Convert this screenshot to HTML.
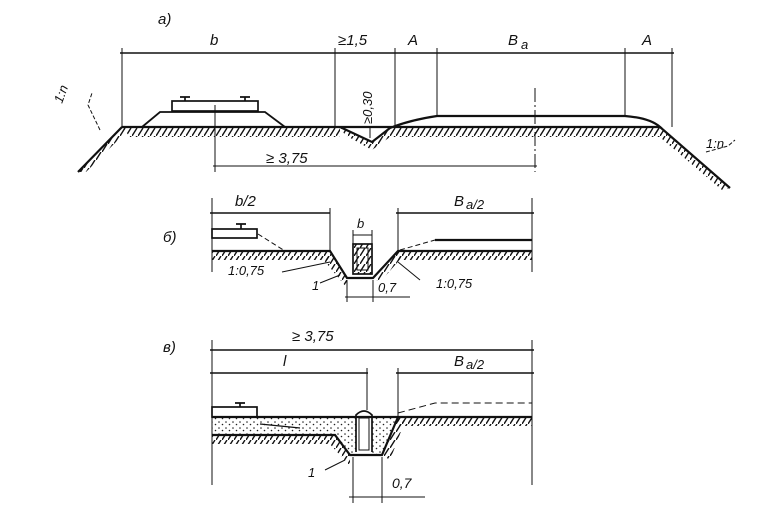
<!DOCTYPE html>
<html><head><meta charset="utf-8"><style>
html,body{margin:0;padding:0;background:#fff;}
svg{display:block}
text{font-family:"Liberation Sans",sans-serif;font-style:italic;font-size:15px;fill:#111}
</style></head><body>
<svg width="768" height="524" viewBox="0 0 768 524" xmlns="http://www.w3.org/2000/svg">
<defs>
<pattern id="h" width="6" height="8" patternUnits="userSpaceOnUse">
<line x1="0" y1="8" x2="5" y2="0" stroke="#111" stroke-width="1.4"/>
</pattern>
<pattern id="d" width="7" height="6" patternUnits="userSpaceOnUse">
<circle cx="2" cy="2" r="0.8" fill="#222"/><circle cx="5.5" cy="4.5" r="0.8" fill="#222"/>
</pattern>
</defs>
<g stroke="#111" fill="none" stroke-width="1.4">
<!-- ===== panel a ===== -->
<line x1="120" y1="53" x2="674" y2="53"/>
<g stroke-width="1">
<line x1="122" y1="48" x2="122" y2="127"/><line x1="335" y1="48" x2="335" y2="127"/>
<line x1="395" y1="48" x2="395" y2="125"/><line x1="437" y1="48" x2="437" y2="116"/>
<line x1="625" y1="48" x2="625" y2="116"/><line x1="672" y1="48" x2="672" y2="127"/>
<line x1="215" y1="105" x2="215" y2="172"/>
<line x1="535" y1="88" x2="535" y2="172" stroke-dasharray="14 3 2 3"/>
<line x1="213" y1="166" x2="537" y2="166"/>
<line x1="335" y1="127" x2="395" y2="127" stroke-dasharray="5 3"/>
<line x1="370" y1="128" x2="370" y2="138"/>
</g>
<path d="M122 127 H340 L372 142 L390 128 Q410 120 437 116 H625 Q650 118 660 127 H122" stroke-width="2.2"/>
<path d="M122 127 L78 172 M660 127 L730 188" stroke-width="2.2"/>
<path d="M142 127 L160 112 H265 L285 127" stroke-width="1.8"/>
<rect x="172" y="101" width="86" height="10" stroke-width="1.7"/>
<path d="M180 97 h10 M185 97 v4 M240 97 h10 M245 97 v4" stroke-width="1.7"/>
<path d="M100 130 L88 105 L92 93 M706 152 L728 146 L735 140" stroke-dasharray="4 2" stroke-width="1"/>
</g>
<g fill="url(#h)" stroke="none">
<polygon points="122,127 340,127 340,137 130,137"/>
<polygon points="340,127 372,142 390,128 660,127 660,137 390,137 372,150 345,135"/>
<polygon points="122,127 78,172 86,172 128,130"/>
<polygon points="660,127 730,188 722,190 655,133"/>
</g>
<text x="158" y="24">а)</text>
<text x="210" y="45">b</text>
<text x="338" y="45">≥1,5</text>
<text x="408" y="45">A</text>
<text x="508" y="45">B</text><text x="521" y="49" style="font-size:13px">a</text>
<text x="642" y="45">A</text>
<text x="266" y="163">≥ 3,75</text>
<text x="372" y="124" transform="rotate(-90 372 124)" style="font-size:13px">≥0,30</text>
<text x="62" y="104" transform="rotate(-70 62 104)" style="font-size:13px">1:n</text>
<text x="706" y="148" style="font-size:13px">1:n</text>

<!-- ===== panel b ===== -->
<g stroke="#111" fill="none" stroke-width="1.4">
<line x1="210" y1="213" x2="330" y2="213"/><line x1="396" y1="213" x2="534" y2="213"/>
<g stroke-width="1">
<line x1="212" y1="198" x2="212" y2="272"/><line x1="330" y1="208" x2="330" y2="251"/>
<line x1="398" y1="208" x2="398" y2="251"/><line x1="532" y1="198" x2="532" y2="272"/>
<line x1="353" y1="235" x2="372" y2="235"/><line x1="353" y1="230" x2="353" y2="244"/><line x1="372" y1="230" x2="372" y2="244"/>
<line x1="347" y1="280" x2="347" y2="302"/><line x1="373" y1="280" x2="373" y2="302"/>
<line x1="345" y1="297" x2="410" y2="297"/>
<path d="M258 234 L285 251 M400 250 L435 240" stroke-dasharray="5 3"/>
<path d="M282 272 L330 262 M420 280 L398 262 M320 283 L340 275"/>
</g>
<path d="M212 251 H330 L347 278 H373 L398 251 H532" stroke-width="2.2"/>
<line x1="435" y1="240" x2="532" y2="240" stroke-width="2.2"/>
<rect x="212" y="229" width="45" height="9" stroke-width="1.7"/>
<path d="M236 224 h10 M241 224 v5" stroke-width="1.7"/>
<rect x="353" y="244" width="19" height="30" stroke-width="1.7"/>
<rect x="357" y="248" width="11" height="22" stroke-width="1"/>
</g>
<g fill="url(#h)" stroke="none">
<polygon points="212,251 330,251 330,260 212,260"/>
<polygon points="398,251 532,251 532,260 398,260"/>
<polygon points="330,251 347,278 347,288 322,258"/>
<polygon points="398,251 373,278 380,282 404,255"/>
<polygon points="353,244 372,244 372,274 353,274"/>
</g>
<text x="163" y="242">б)</text>
<text x="235" y="206">b/2</text>
<text x="454" y="206">B</text><text x="466" y="209" style="font-size:13px">a/2</text>
<text x="357" y="228" style="font-size:13px">b</text>
<text x="228" y="275" style="font-size:13px">1:0,75</text>
<text x="312" y="290" style="font-size:13px">1</text>
<text x="378" y="292" style="font-size:13px">0,7</text>
<text x="436" y="288" style="font-size:13px">1:0,75</text>

<!-- ===== panel c ===== -->
<g stroke="#111" fill="none" stroke-width="1.4">
<line x1="210" y1="350" x2="534" y2="350"/>
<line x1="210" y1="373" x2="368" y2="373"/><line x1="396" y1="373" x2="534" y2="373"/>
<g stroke-width="1">
<line x1="212" y1="340" x2="212" y2="485"/><line x1="532" y1="340" x2="532" y2="485"/>
<line x1="367" y1="368" x2="367" y2="410"/><line x1="398" y1="368" x2="398" y2="417"/>
<line x1="353" y1="457" x2="353" y2="503"/><line x1="382" y1="457" x2="382" y2="503"/>
<line x1="349" y1="497" x2="425" y2="497"/>
<path d="M398 413 L435 403 H532" stroke-dasharray="7 4"/>
<path d="M325 470 L345 460"/>
</g>
</g>
<polygon points="212,417 356,417 356,452 352,455 335,435 212,435" fill="url(#d)" stroke="none"/>
<polygon points="372,417 398,417 382,455 372,455" fill="url(#d)" stroke="none"/>
<g stroke="#111" fill="none" stroke-width="1.4">
<path d="M212 417 H398 H532" stroke-width="2.2"/>
<path d="M212 435 H335 L350 455 H382 L398 417" stroke-width="2.2"/>
<path d="M260 424 L300 428" stroke-width="1.2"/>
<rect x="212" y="407" width="45" height="10" stroke-width="1.7"/>
<path d="M235 403 h10 M240 403 v4" stroke-width="1.7"/>
<path d="M356 452 V415 Q364 407 372 415 V452" stroke-width="1.7"/>
<rect x="359" y="418" width="10" height="32" stroke-width="1"/>
</g>
<g fill="url(#h)" stroke="none">
<polygon points="212,435 335,435 328,444 212,444"/>
<polygon points="398,417 532,417 532,426 398,426"/>
<polygon points="335,435 350,455 350,466 328,442"/>
<polygon points="398,417 382,455 390,460 405,421"/>
</g>
<text x="163" y="352">в)</text>
<text x="292" y="341">≥ 3,75</text>
<text x="283" y="366">l</text>
<text x="454" y="366">B</text><text x="466" y="369" style="font-size:13px">a/2</text>
<text x="308" y="477" style="font-size:13px">1</text>
<text x="392" y="488" style="font-size:14px">0,7</text>
</svg>
</body></html>
